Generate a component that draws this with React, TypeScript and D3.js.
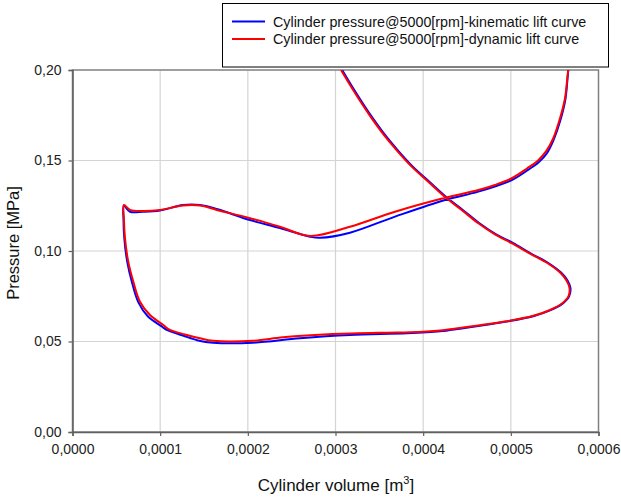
import React, { useEffect, useRef } from "react";
import * as d3 from "d3";

// kinematic lift curve (blue)
const kinVolume = [
  0.0003076, 0.0003207, 0.0003395, 0.0003583, 0.0003692, 0.0003882, 0.0004071, 0.0004281,
  0.0004452, 0.0004642, 0.0004832, 0.0005023, 0.0005230, 0.0005436, 0.0005573, 0.0005647,
  0.0005680, 0.0005665, 0.0005586, 0.0005447, 0.0005256, 0.0004933, 0.0004648, 0.0004420,
  0.0004192, 0.0003815, 0.0003165, 0.0002595, 0.0002059, 0.0001603, 0.0001432, 0.0001260,
  0.0001089, 0.0001009, 0.0000861, 0.0000753, 0.0000679, 0.0000625, 0.0000591, 0.0000582,
  0.0000587, 0.0000656, 0.0000804, 0.0000998, 0.0001260, 0.0001454, 0.0001645, 0.0002025,
  0.0002367, 0.0002709, 0.0002823, 0.0003165, 0.0003679, 0.0004250, 0.0004629, 0.0005010,
  0.0005196, 0.0005321, 0.0005412, 0.0005487, 0.0005566, 0.0005623, 0.0005646, 0.0005655,
];
const kinPressure = [
  0.2000, 0.1895, 0.1755, 0.1630, 0.1567, 0.1466, 0.1383, 0.1291,
  0.1227, 0.1153, 0.1092, 0.1045, 0.0986, 0.0931, 0.0881, 0.0837,
  0.0796, 0.0750, 0.0708, 0.0672, 0.0640, 0.0609, 0.0587, 0.0571,
  0.0556, 0.0545, 0.0536, 0.0518, 0.0493, 0.0493, 0.0506, 0.0533,
  0.0561, 0.0586, 0.0638, 0.0715, 0.0826, 0.0939, 0.1069, 0.1171,
  0.1249, 0.1217, 0.1217, 0.1224, 0.1254, 0.1254, 0.1232, 0.1171,
  0.1127, 0.1079, 0.1073, 0.1101, 0.1190, 0.1282, 0.1328, 0.1392,
  0.1448, 0.1492, 0.1541, 0.1613, 0.1724, 0.1840, 0.1950, 0.2000,
];

// dynamic lift curve (red)
const dynVolume = [
  0.0003063, 0.0003194, 0.0003382, 0.0003570, 0.0003679, 0.0003869, 0.0004058, 0.0004268,
  0.0004439, 0.0004629, 0.0004819, 0.0005010, 0.0005218, 0.0005424, 0.0005561, 0.0005635,
  0.0005669, 0.0005658, 0.0005583, 0.0005447, 0.0005256, 0.0004933, 0.0004648, 0.0004420,
  0.0004192, 0.0003850, 0.0003587, 0.0002971, 0.0002401, 0.0002059, 0.0001603, 0.0001454,
  0.0001283, 0.0001112, 0.0001036, 0.0000884, 0.0000770, 0.0000694, 0.0000636, 0.0000599,
  0.0000587, 0.0000587, 0.0000656, 0.0000808, 0.0000998, 0.0001260, 0.0001454, 0.0001645,
  0.0002025, 0.0002367, 0.0002709, 0.0003165, 0.0003679, 0.0004250, 0.0004629, 0.0004819,
  0.0005010, 0.0005184, 0.0005310, 0.0005401, 0.0005484, 0.0005561, 0.0005618, 0.0005644,
  0.0005655,
];
const dynPressure = [
  0.2000, 0.1895, 0.1755, 0.1630, 0.1567, 0.1466, 0.1383, 0.1291,
  0.1227, 0.1153, 0.1092, 0.1043, 0.0986, 0.0931, 0.0881, 0.0837,
  0.0796, 0.0751, 0.0710, 0.0674, 0.0642, 0.0610, 0.0590, 0.0575,
  0.0561, 0.0551, 0.0549, 0.0541, 0.0523, 0.0504, 0.0504, 0.0518,
  0.0539, 0.0564, 0.0591, 0.0646, 0.0720, 0.0830, 0.0941, 0.1070,
  0.1171, 0.1254, 0.1227, 0.1221, 0.1227, 0.1251, 0.1251, 0.1227,
  0.1181, 0.1134, 0.1083, 0.1134, 0.1217, 0.1294, 0.1337, 0.1365,
  0.1402, 0.1456, 0.1500, 0.1550, 0.1623, 0.1733, 0.1844, 0.1954,
  0.2000,
];

const xTicks = [0, 0.0001, 0.0002, 0.0003, 0.0004, 0.0005, 0.0006];
const yTicks = [0, 0.05, 0.1, 0.15, 0.2];
const legendLabels = [
  "Cylinder pressure@5000[rpm]-kinematic lift curve",
  "Cylinder pressure@5000[rpm]-dynamic lift curve",
];
const colors = ["#0000ff", "#ff0000"];

const App = () => {
  const ref = useRef<SVGSVGElement>(null);

  useEffect(() => {
    const svg = d3.select(ref.current);
    svg.selectAll("*").remove();

    const left = 72.5, right = 598.5, top = 70, bottom = 432;
    const font = "Liberation Sans, Arial, sans-serif";

    const x = d3.scaleLinear().domain([0, 0.0006]).range([left, right]);
    const y = d3.scaleLinear().domain([0, 0.2]).range([bottom, top]);
    const comma = (f) => (d) => f(d).replace(".", ",");

    svg.append("clipPath").attr("id", "plotclip")
      .append("rect")
      .attr("x", left).attr("y", top)
      .attr("width", right - left).attr("height", bottom - top);

    // grid
    const grid = svg.append("g");
    grid.selectAll(".gx").data(xTicks.slice(1, -1)).join("line")
      .attr("x1", (d) => x(d)).attr("x2", (d) => x(d))
      .attr("y1", top).attr("y2", bottom)
      .attr("stroke", "#d4d4d4").attr("stroke-width", 1.2);
    grid.selectAll(".gy").data(yTicks.slice(1, -1)).join("line")
      .attr("y1", (d) => y(d)).attr("y2", (d) => y(d))
      .attr("x1", left).attr("x2", right)
      .attr("stroke", "#d4d4d4").attr("stroke-width", 1.2);

    // frame
    svg.append("rect")
      .attr("x", left).attr("y", top)
      .attr("width", right - left).attr("height", bottom - top)
      .attr("fill", "none").attr("stroke", "#808080").attr("stroke-width", 1.5);

    // Add X axis
    const xAxis = svg.append("g")
      .attr("transform", `translate(0, ${bottom})`)
      .call(d3.axisBottom(x).tickValues(xTicks).tickSize(4).tickPadding(8)
        .tickFormat(comma(d3.format(".4f"))));
    // Add Y axis
    const yAxis = svg.append("g")
      .attr("transform", `translate(${left}, 0)`)
      .call(d3.axisLeft(y).tickValues(yTicks).tickSize(4).tickPadding(7)
        .tickFormat(comma(d3.format(".2f"))));
    [xAxis, yAxis].forEach((g) => {
      g.select(".domain").attr("stroke", "#606060").attr("stroke-width", 1.5);
      g.selectAll(".tick line").attr("stroke", "#606060").attr("stroke-width", 1.2);
      g.selectAll("text").attr("fill", "#222").style("font-family", font).style("font-size", "14px");
    });

    // curves
    const series = [
      { v: kinVolume, p: kinPressure },
      { v: dynVolume, p: dynPressure },
    ];
    const plot = svg.append("g").attr("clip-path", "url(#plotclip)");
    series.forEach((s, i) => {
      const pts = s.v.map((v, k) => [x(v), y(s.p[k])] as [number, number]);
      plot.append("path")
        .attr("d", d3.line().curve(d3.curveCatmullRom.alpha(0.5))(pts))
        .attr("fill", "none")
        .attr("stroke", colors[i])
        .attr("stroke-width", 2);
    });

    // axis titles
    const xt = svg.append("text")
      .attr("x", 336).attr("y", 491)
      .attr("text-anchor", "middle")
      .style("font-family", font).style("font-size", "17px").attr("fill", "#111");
    xt.append("tspan").text("Cylinder volume [m");
    xt.append("tspan").attr("dy", -7).style("font-size", "11px").text("3");
    xt.append("tspan").attr("dy", 7).text("]");

    svg.append("text")
      .attr("x", -243).attr("y", 19)
      .attr("text-anchor", "middle")
      .attr("transform", "rotate(-90)")
      .style("font-family", font).style("font-size", "16.5px").attr("fill", "#111")
      .text("Pressure [MPa]");

    // legend
    const lg = svg.append("g");
    lg.append("rect")
      .attr("x", 222.5).attr("y", 3.5).attr("width", 386).attr("height", 63.5)
      .attr("fill", "#fff").attr("stroke", "#000").attr("stroke-width", 1);
    legendLabels.forEach((t, i) => {
      const ly = 21.5 + i * 17.5;
      lg.append("line")
        .attr("x1", 232).attr("x2", 265).attr("y1", ly).attr("y2", ly)
        .attr("stroke", colors[i]).attr("stroke-width", 2);
      lg.append("text")
        .attr("x", 273).attr("y", ly + 5)
        .style("font-family", font).style("font-size", "14.3px").attr("fill", "#111")
        .text(t);
    });
  }, []);

  return (
    <svg ref={ref} width={621} height={502}
      style={{ position: "absolute", left: 0, top: 0, background: "#fff" }} />
  );
};

export default App;
